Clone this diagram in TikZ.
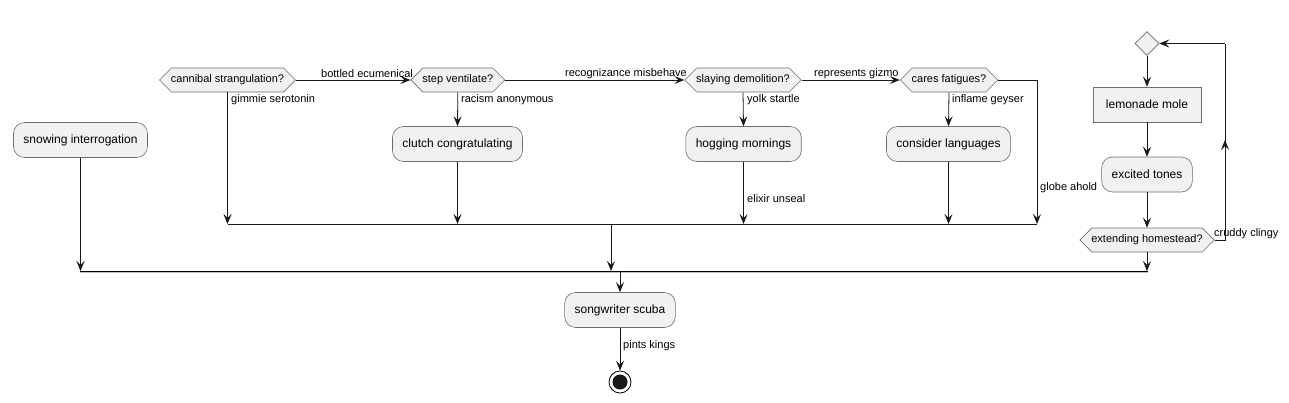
\documentclass[tikz,border=0pt]{standalone}
\usepackage{fontspec}
\setmainfont{Liberation Sans}
\usetikzlibrary{arrows.meta,shapes.symbols,shapes.geometric}
\definecolor{boxfill}{HTML}{F1F1F1}
\definecolor{boxline}{HTML}{6E6E6E}
\tikzset{
  act/.style={draw=boxline, fill=boxfill, line width=0.6pt, rounded corners=11pt, minimum height=35pt, inner xsep=10pt, font=\fontsize{12}{14}\selectfont},
  rectbox/.style={draw=boxline, fill=boxfill, line width=0.6pt, minimum height=35pt, inner xsep=10pt, font=\fontsize{12}{14}\selectfont},
  hexbox/.style={draw=boxline, fill=boxfill, line width=0.6pt, signal, signal to=west and east, signal pointer angle=90, minimum height=24pt, inner xsep=-0.5pt, inner ysep=2pt, font=\fontsize{11}{13}\selectfont},
  diam/.style={draw=boxline, fill=boxfill, line width=0.6pt, diamond, minimum width=24pt, minimum height=24pt, inner sep=0pt},
  lbl/.style={font=\fontsize{11}{13}\selectfont, inner sep=0pt, anchor=west},
  flow/.style={line width=0.8pt, draw=black!90},
  arr/.style={flow, -{Stealth[length=10pt,width=8pt,inset=4pt]}},
}
\begin{document}
\begin{tikzpicture}[x=1pt,y=-1pt]
\useasboundingbox (0,0) rectangle (1289,402);
% nodes
\node[act] (snow) at (80.5,140) {snowing interrogation};
\node[hexbox] (cann) at (227.5,80) {cannibal strangulation?};
\node[hexbox] (stepv) at (457.8,80) {step ventilate?};
\node[act] (clutch) at (457.5,144) {clutch congratulating};
\node[hexbox] (slay) at (743,80) {slaying demolition?};
\node[act] (hog) at (743.5,144) {hogging mornings};
\node[hexbox] (cares) at (949,80) {cares fatigues?};
\node[act] (cons) at (948.5,144) {consider languages};
\node[diam] (dia) at (1147,43.5) {};
\node[rectbox, minimum width=108pt] (lemon) at (1147,104.5) {lemonade mole};
\node[act] (exc) at (1147,174.5) {excited tones};
\node[hexbox] (ext) at (1147,240) {extending homestead?};
\node[act] (song) at (620,310) {songwriter scuba};
\node[circle, draw=black, line width=0.8pt, fill=white, minimum size=22pt, inner sep=0pt] (endc) at (620,382) {};
\fill[black!90] (endc.center) circle (7.5pt);
% coordinates
\coordinate (b1a) at (228,224);
\coordinate (b1b) at (1037,224);
\coordinate (gcorner) at (1037,80);
\coordinate (b1m) at (611,224);
\coordinate (b2a) at (80,271);
\coordinate (b2b) at (1148,271);
\coordinate (b2m) at (611,271);
\coordinate (b2s) at (620,271);
\coordinate (lp1) at (1225,240);
\coordinate (lp2) at (1225,43.5);
\coordinate (lpm) at (1225,140);
% inner merge bar
\draw[flow] (b1a) -- (b1b);
% outer merge bar
\draw[line width=2.4pt, draw=black!25] (80,272) -- (1148,272);
\draw[line width=1pt, draw=black] (b2a) -- (b2b);
% connectors
\draw[arr] (cann.east) -- (stepv.west);
\node[lbl] (l1) at (321,74) {bottled ecumenical};
\draw[arr] (stepv.east) -- (slay.west);
\node[lbl] (l2) at (565,74) {recognizance misbehave};
\draw[arr] (slay.east) -- (cares.west);
\node[lbl] (l3) at (814,74) {represents gizmo};
\draw[arr] (cann.south) -- (cann.south |- b1a);
\node[lbl] (l4) at (231,100) {gimmie serotonin};
\draw[arr] (stepv.south) -- (clutch.north);
\node[lbl] (l5) at (461,100) {racism anonymous};
\draw[arr] (clutch.south) -- (clutch.south |- b1a);
\draw[arr] (slay.south) -- (hog.north);
\node[lbl] (l6) at (747,100) {yolk startle};
\draw[arr] (hog.south) -- (hog.south |- b1a);
\node[lbl] (l7) at (747,199) {elixir unseal};
\draw[arr] (cares.south) -- (cons.north);
\node[lbl] (l8) at (952,100) {inflame geyser};
\draw[arr] (cons.south) -- (cons.south |- b1a);
\draw[arr] (cares.east) -- (gcorner) -- (b1b);
\node[lbl] (l9) at (1040,188) {globe ahold};
\draw[arr] (b1m) -- (b2m);
\draw[arr] (snow.south) -- (snow.south |- b2a);
\draw[arr] (dia.south) -- (lemon.north);
\draw[arr] (lemon.south) -- (exc.north);
\draw[arr] (exc.south) -- (ext.north);
\draw[arr] (ext.south) -- (ext.south |- b2a);
\draw[flow] (ext.east) -- (lp1) -- (lp2);
\draw[arr] (lp1) -- (lpm);
\draw[arr] (lp2) -- (dia.east);
\node[lbl] (l10) at (1214,234) {cruddy clingy};
\draw[arr] (b2s) -- (song.north);
\draw[arr] (song.south) -- (endc.north);
\node[lbl] (l11) at (623,346) {pints kings};
\end{tikzpicture}
\end{document}
